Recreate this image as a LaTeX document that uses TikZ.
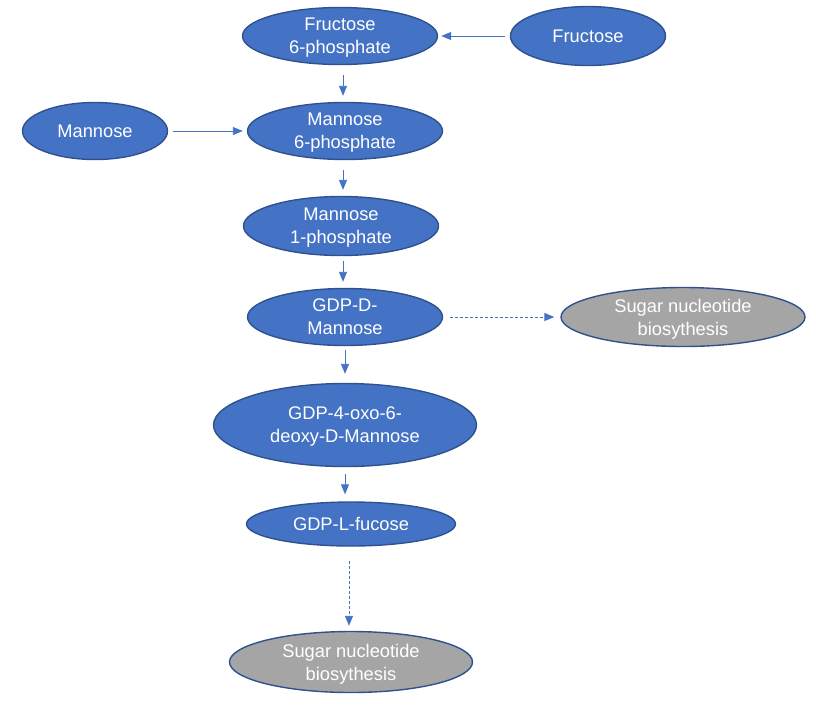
\documentclass[tikz,border=0pt]{standalone}
\usepackage{fontspec}
\setmainfont{Liberation Sans}
\usetikzlibrary{shapes.geometric,arrows.meta}
\definecolor{stepfill}{RGB}{68,114,196}
\definecolor{stepborder}{RGB}{47,82,143}
\definecolor{sinkfill}{RGB}{165,165,165}
\definecolor{arrowcolor}{RGB}{68,114,196}
\tikzstyle{metabolite} = [ellipse, draw=stepborder, fill=stepfill, line width=1.4pt, inner sep=0, text depth=0pt, text=white, align=center, font=\fontsize{18.3}{23}\selectfont]
\tikzstyle{sink} = [metabolite, fill=sinkfill]
\tikzstyle{flow} = [-{Triangle[length=10pt,width=8pt]}, arrowcolor, line width=0.9pt]
\tikzstyle{sideflow} = [flow, dash pattern=on 3pt off 2pt]

\begin{document}
\begin{tikzpicture}[x=1pt,y=-1pt]
		\useasboundingbox (0,0) rectangle (816,705);
		
		\node[metabolite, minimum width=195pt, minimum height=57pt] (f6p) at (340,36) {Fructose\\6-phosphate};
		\node[metabolite, minimum width=155pt, minimum height=59pt] (fru) at (588,36) {Fructose};
		\node[metabolite, minimum width=145pt, minimum height=57pt] (man) at (95,131) {Mannose};
		\node[metabolite, minimum width=195pt, minimum height=57pt] (m6p) at (345,131) {Mannose\\6-phosphate};
		\node[metabolite, minimum width=195pt, minimum height=59pt] (m1p) at (341,226) {Mannose\\1-phosphate};
		\node[metabolite, minimum width=195pt, minimum height=57pt] (gdpman) at (345,317) {GDP-D-\\Mannose};
		\node[sink, minimum width=244pt, minimum height=59pt] (sinkright) at (683,317) {Sugar nucleotide\\biosythesis};
		\node[metabolite, minimum width=263pt, minimum height=83pt] (oxo) at (345,425) {GDP-4-oxo-6-\\deoxy-D-Mannose};
		\node[metabolite, minimum width=209pt, minimum height=44pt] (fuc) at (351,524) {GDP-L-fucose};
		\node[sink, minimum width=243pt, minimum height=61pt] (sinkbottom) at (351,662) {Sugar nucleotide\\biosythesis};
		
		% main route
		\draw[flow, shorten <=5pt, shorten >=3pt] (fru) -- (f6p);
		\draw[flow, shorten <=10pt, shorten >=6pt] (f6p.south -| 343,0) -- (m6p.north -| 343,0);
		\draw[flow, shorten <=5pt, shorten >=4pt] (man) -- (m6p);
		\draw[flow, shorten <=10pt, shorten >=6pt] (m6p.south -| 343,0) -- (m1p.north -| 343,0);
		\draw[flow, shorten <=5pt, shorten >=6pt] (m1p.south -| 343,0) -- (gdpman.north -| 343,0);
		\draw[flow, shorten <=4pt, shorten >=9pt] (gdpman) -- (oxo);
		\draw[flow, shorten <=7pt, shorten >=7pt] (oxo) -- (oxo |- fuc.north);
		
		% branches
		\draw[sideflow, shorten <=7pt, shorten >=6pt] (gdpman) -- (sinkright);
		\draw[sideflow, shorten <=14pt, shorten >=5pt] (fuc.south -| 349,0) -- (sinkbottom.north -| 349,0);
		
\end{tikzpicture}
\end{document}
